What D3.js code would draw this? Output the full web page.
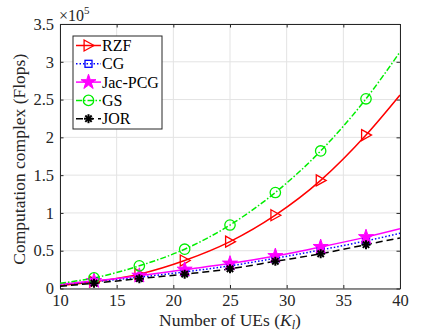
<!DOCTYPE html>
<html>
<head>
<meta charset="utf-8">
<script src="https://cdn.jsdelivr.net/npm/d3@7"></script>
<style>
  body { margin: 0; background: #fff; }
</style>
</head>
<body>
<svg></svg>
<script>
// number of UEs (x positions of stored samples)
let ues = [10, 13, 17, 21, 25, 29, 33, 37, 40];
// which samples carry a marker
let markerUes = [13, 17, 21, 25, 29, 33, 37];

// values in units of 1e5 flops
let rzf    = [0.04, 0.09, 0.19, 0.37, 0.62, 0.97, 1.43, 2.03, 2.56];
let cg     = [0.05, 0.09, 0.15, 0.22, 0.30, 0.40, 0.51, 0.63, 0.73];
let jacPcg = [0.06, 0.10, 0.17, 0.25, 0.33, 0.43, 0.55, 0.68, 0.79];
let gs     = [0.07, 0.14, 0.30, 0.52, 0.84, 1.27, 1.82, 2.51, 3.13];
let jor    = [0.03, 0.07, 0.13, 0.19, 0.26, 0.36, 0.46, 0.58, 0.67];

let xTicks = [10, 15, 20, 25, 30, 35, 40];
let yTicks = [0, 0.5, 1, 1.5, 2, 2.5, 3, 3.5];

let series = [
  { name: 'RZF',     values: rzf,    color: '#ff0000', dash: null,        marker: 'tri' },
  { name: 'CG',      values: cg,     color: '#0000ff', dash: '1.5,2',     marker: 'square' },
  { name: 'Jac-PCG', values: jacPcg, color: '#ff00ff', dash: null,        marker: 'star' },
  { name: 'GS',      values: gs,     color: '#00ee00', dash: '6,2,1.5,2', marker: 'circle' },
  { name: 'JOR',     values: jor,    color: '#000000', dash: '7,4',       marker: 'ast' }
];

let svgWidth = 443,
    svgHeight = 332;
let serif = 'Liberation Serif';

let svg = d3.select('svg')
            .attr('width', svgWidth)
            .attr('height', svgHeight)
            .attr('font-family', serif);

let pLeft = 60, pRight = 400, pTop = 24, pBottom = 288.5;

let x = d3.scaleLinear().domain([10, 40]).range([pLeft, pRight]);
let y = d3.scaleLinear().domain([0, 3.5]).range([pBottom, pTop]);

// grid
svg.append('g').selectAll('line').data(xTicks).join('line')
   .attr('x1', d => x(d)).attr('x2', d => x(d))
   .attr('y1', pTop).attr('y2', pBottom)
   .attr('stroke', '#e3e3e3').attr('stroke-width', 1);
svg.append('g').selectAll('line').data(yTicks).join('line')
   .attr('x1', pLeft).attr('x2', pRight)
   .attr('y1', d => y(d)).attr('y2', d => y(d))
   .attr('stroke', '#e3e3e3').attr('stroke-width', 1);

// axes (ticks inward, box on)
let axisColor = '#262626';
let xAxis = svg.append('g').attr('transform', `translate(0,${pBottom})`)
   .call(d3.axisBottom(x).tickValues(xTicks).tickSizeInner(-3.5).tickSizeOuter(0).tickPadding(6));
let xAxisTop = svg.append('g').attr('transform', `translate(0,${pTop})`)
   .call(d3.axisTop(x).tickValues(xTicks).tickSizeInner(-3.5).tickSizeOuter(0).tickFormat(''));
let yAxis = svg.append('g').attr('transform', `translate(${pLeft},0)`)
   .call(d3.axisLeft(y).tickValues(yTicks).tickSizeInner(-3.5).tickSizeOuter(0).tickPadding(6)
         .tickFormat(d => d3.format('')(d)));
let yAxisRight = svg.append('g').attr('transform', `translate(${pRight},0)`)
   .call(d3.axisRight(y).tickValues(yTicks).tickSizeInner(-3.5).tickSizeOuter(0).tickFormat(''));

[xAxis, xAxisTop, yAxis, yAxisRight].forEach(g => {
  g.attr('font-family', serif).attr('font-size', 16.5);
  g.select('.domain').attr('stroke', axisColor).attr('stroke-width', 1);
  g.selectAll('.tick line').attr('stroke', axisColor);
  g.selectAll('.tick text').attr('fill', axisColor);
});

// clip
svg.append('clipPath').attr('id', 'clip')
   .append('rect').attr('x', pLeft).attr('y', pTop).attr('width', pRight - pLeft).attr('height', pBottom - pTop);

let line = d3.line()
             .x((d, i) => x(ues[i]))
             .y(d => y(d))
             .curve(d3.curveMonotoneX);

function drawMarker(g, type, cx, cy, color) {
  if (type === 'tri') {
    let s = 5.5;
    g.append('path')
     .attr('d', `M${cx - s * 0.8},${cy - s} L${cx + s},${cy} L${cx - s * 0.8},${cy + s} Z`)
     .attr('fill', 'none').attr('stroke', color).attr('stroke-width', 1.3);
  } else if (type === 'square') {
    g.append('rect').attr('x', cx - 3.5).attr('y', cy - 3.5).attr('width', 7).attr('height', 7)
     .attr('fill', 'none').attr('stroke', color).attr('stroke-width', 1.3);
  } else if (type === 'star') {
    g.append('path').attr('d', d3.symbol(d3.symbolStar, 70)())
     .attr('transform', `translate(${cx},${cy})`)
     .attr('fill', color).attr('stroke', color).attr('stroke-width', 1);
  } else if (type === 'circle') {
    g.append('circle').attr('cx', cx).attr('cy', cy).attr('r', 5.2)
     .attr('fill', 'none').attr('stroke', color).attr('stroke-width', 1.3);
  } else if (type === 'ast') {
    let s = 4.5;
    [0, 45, 90, 135].forEach(a => {
      let r = a * Math.PI / 180;
      g.append('line')
       .attr('x1', cx - s * Math.cos(r)).attr('y1', cy - s * Math.sin(r))
       .attr('x2', cx + s * Math.cos(r)).attr('y2', cy + s * Math.sin(r))
       .attr('stroke', color).attr('stroke-width', 2);
    });
  }
}

let plot = svg.append('g').attr('clip-path', 'url(#clip)');
series.forEach(s => {
  plot.append('path')
      .datum(s.values)
      .attr('d', line)
      .attr('fill', 'none')
      .attr('stroke', s.color)
      .attr('stroke-width', 1.5)
      .attr('stroke-dasharray', s.dash);
});
series.forEach(s => {
  let g = plot.append('g');
  s.values.forEach((v, i) => {
    if (markerUes.includes(ues[i])) drawMarker(g, s.marker, x(ues[i]), y(v), s.color);
  });
});

// exponent label
let expo = svg.append('text').attr('x', pLeft - 1).attr('y', 21)
   .attr('fill', axisColor).attr('font-size', 16);
expo.append('tspan').text('\u00d710');
expo.append('tspan').attr('dy', -7).attr('font-size', 11).text('5');

// axis labels
svg.append('text')
   .attr('transform', `translate(25,${(pTop + pBottom) / 2 + 3}) rotate(-90)`)
   .attr('text-anchor', 'middle')
   .attr('fill', axisColor)
   .attr('font-size', 17.5)
   .text('Computation complex (Flops)');

let xl = svg.append('text')
   .attr('x', (pLeft + pRight) / 2).attr('y', 326)
   .attr('text-anchor', 'middle')
   .attr('fill', axisColor)
   .attr('font-size', 17.5);
xl.append('tspan').text('Number of UEs (');
xl.append('tspan').attr('font-style', 'italic').text('K');
xl.append('tspan').attr('dy', 3).attr('font-style', 'italic').attr('font-size', 12).text('l');
xl.append('tspan').attr('dy', -3).text(')');

// legend
let legend = svg.append('g');
legend.append('rect')
      .attr('x', 73).attr('y', 36).attr('width', 89).attr('height', 93)
      .attr('fill', '#fff').attr('stroke', axisColor).attr('stroke-width', 1);
series.forEach((s, i) => {
  let ly = 45.5 + i * 18.3;
  legend.append('line')
        .attr('x1', 76).attr('x2', 101).attr('y1', ly).attr('y2', ly)
        .attr('stroke', s.color).attr('stroke-width', 1.5)
        .attr('stroke-dasharray', s.dash);
  drawMarker(legend, s.marker, 88.5, ly, s.color);
  legend.append('text')
        .attr('x', 102).attr('y', ly + 5.5)
        .attr('fill', '#000')
        .attr('font-size', 16)
        .text(s.name);
});
</script>
</body>
</html>
